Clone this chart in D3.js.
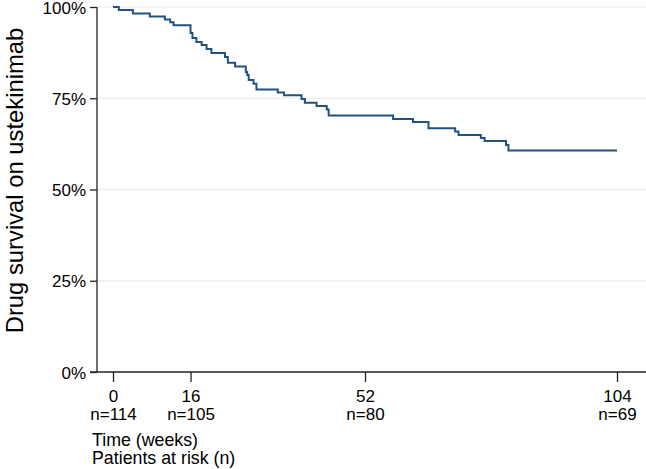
<!DOCTYPE html>
<html>
<head>
<meta charset="utf-8">
<script src="https://cdn.jsdelivr.net/npm/d3@7"></script>
<style>
  body { margin: 0; background: #fff; }
  svg text { font-family: "Liberation Sans", Arial, Helvetica, sans-serif; fill: #000; }
</style>
</head>
<body>
<div id="chart"></div>
<script>
const width = 646, height = 469;

// Kaplan-Meier steps: week of each drop, survival after it
const stepWeeks = [1.2, 4.1, 7.6, 10.7, 11.8, 12.5, 16.0, 16.4, 17.2, 18.3, 19.3, 20.3,
  23.1, 23.7, 25.2, 27.4, 27.7, 28.0, 29.0, 29.6, 34.0, 35.3, 38.9, 39.6, 42.0, 44.1,
  44.5, 57.8, 61.9, 65.1, 70.6, 71.3, 75.9, 76.7, 81.1, 81.6];
const stepSurvival = [0.992, 0.982, 0.974, 0.966, 0.958, 0.950, 0.929, 0.915, 0.904,
  0.896, 0.885, 0.874, 0.863, 0.847, 0.837, 0.822, 0.814, 0.800, 0.790, 0.774, 0.766,
  0.758, 0.748, 0.738, 0.729, 0.719, 0.703, 0.693, 0.685, 0.668, 0.659, 0.649, 0.641,
  0.633, 0.622, 0.607];
const lastWeek = 104;

const tickWeeks = [0, 16, 52, 104];
const atRisk = [114, 105, 80, 69];
const yTicks = [0, 0.25, 0.5, 0.75, 1];

let svg = d3.select("#chart")
  .append("svg")
  .attr("width", width)
  .attr("height", height);

let x = d3.scaleLinear().domain([0, 104]).range([113, 617]);
let y = d3.scaleLinear().domain([0, 1]).range([372, 7]);

// gridlines
svg.append("g")
  .selectAll("line")
  .data(yTicks.filter((d) => d > 0))
  .enter().append("line")
  .attr("x1", 98)
  .attr("x2", width)
  .attr("y1", (d) => y(d))
  .attr("y2", (d) => y(d))
  .attr("stroke", "#eaf1f3")
  .attr("stroke-width", 1.5);

// y axis
let yAxis = svg.append("g")
  .attr("transform", "translate(97,0)")
  .call(d3.axisLeft(y).tickValues(yTicks).tickSize(7).tickPadding(4)
    .tickFormat((d) => Math.round(d * 100) + "%"));
yAxis.select(".domain").remove();
yAxis.append("line")
  .attr("x1", 0).attr("x2", 0)
  .attr("y1", y(1)).attr("y2", y(0))
  .attr("stroke", "#222").attr("stroke-width", 1.3);
yAxis.selectAll(".tick line").attr("stroke", "#222").attr("stroke-width", 1.3);
yAxis.selectAll(".tick text")
  .attr("font-size", 17)
  .attr("dy", "0.36em")
  .attr("fill", "#000");

// x axis
let xAxis = svg.append("g")
  .attr("transform", "translate(0,372)")
  .call(d3.axisBottom(x).tickValues(tickWeeks).tickSize(10).tickFormat(""));
xAxis.select(".domain").remove();
xAxis.append("line")
  .attr("x1", 90).attr("x2", width)
  .attr("y1", 0).attr("y2", 0)
  .attr("stroke", "#222").attr("stroke-width", 1.3);
xAxis.selectAll(".tick line").attr("stroke", "#222").attr("stroke-width", 1.3);

let tick = xAxis.selectAll(".tick");
tick.select("text").remove();
tick.append("text")
  .attr("y", 30)
  .attr("text-anchor", "middle")
  .attr("font-size", 17)
  .text((d) => d);
tick.append("text")
  .data(atRisk)
  .attr("y", 48)
  .attr("text-anchor", "middle")
  .attr("font-size", 17)
  .text((d) => "n=" + d);

svg.append("text")
  .attr("x", 92)
  .attr("y", 446)
  .attr("font-size", 17.8)
  .text("Time (weeks)");
svg.append("text")
  .attr("x", 92)
  .attr("y", 464)
  .attr("font-size", 17.8)
  .text("Patients at risk (n)");

svg.append("text")
  .attr("transform", "translate(23," + ((y(1) + y(0)) / 2 - 9) + ") rotate(-90)")
  .attr("text-anchor", "middle")
  .attr("font-size", 23.8)
  .text("Drug survival on ustekinimab");

// survival curve
let points = [{ t: 0, s: 1 }];
stepWeeks.forEach((t, i) => points.push({ t: t, s: stepSurvival[i] }));
points.push({ t: lastWeek, s: stepSurvival[stepSurvival.length - 1] });

svg.append("path")
  .datum(points)
  .attr("fill", "none")
  .attr("stroke", "#23527f")
  .attr("stroke-width", 2)
  .attr("d", d3.line()
    .x((d) => x(d.t))
    .y((d) => y(d.s))
    .curve(d3.curveStepAfter));
</script>
</body>
</html>
